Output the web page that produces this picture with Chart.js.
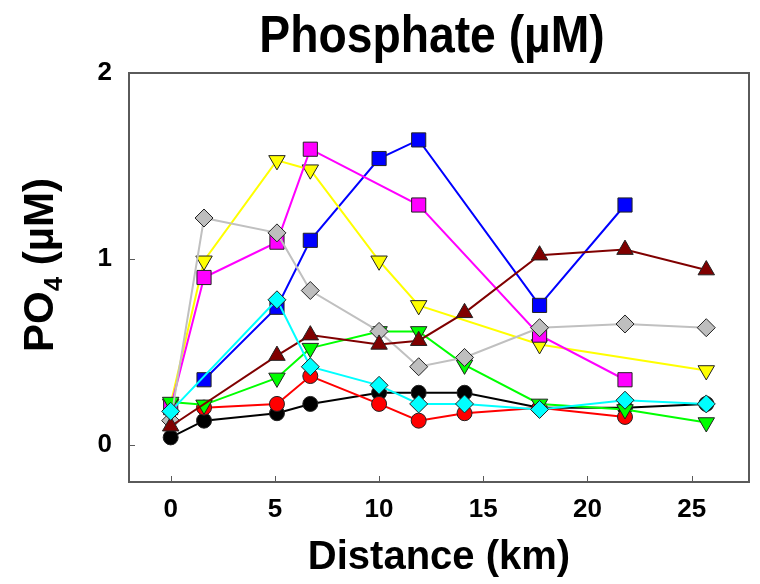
<!DOCTYPE html>
<html>
<head>
<meta charset="utf-8">
<script src="https://cdn.jsdelivr.net/npm/chart.js@4"></script>
<style>
  body { margin: 0; background: #fff; }
  #wrap { width: 760px; height: 584px; }
</style>
</head>
<body>
<div id="wrap"><canvas id="phosphateChart" width="760" height="584"></canvas></div>
<script>
// station distances (km) shared by all transects
const distance = [0, 1.6, 5.1, 6.7, 10, 11.9, 14.1, 17.7, 21.8, 25.7];

// PO4 (uM) per transect, null where no sample
const blackSeries   = [0.04, 0.13, 0.17, 0.22, 0.28, 0.28, 0.28, 0.20, 0.20, 0.22];
const redSeries     = [null, 0.20, 0.22, 0.37, 0.22, 0.13, 0.17, 0.20, 0.15, null];
const greenSeries   = [0.23, 0.215, 0.36, 0.52, 0.61, 0.61, 0.43, 0.22, 0.19, 0.12];
const cyanSeries    = [0.18, null, 0.78, 0.42, 0.32, 0.22, 0.22, 0.19, 0.24, 0.22];
const graySeries    = [0.13, 1.22, 1.14, 0.83, 0.61, 0.42, 0.47, 0.63, 0.65, 0.63];
const brownSeries   = [0.10, null, 0.48, 0.59, 0.54, 0.56, 0.71, 1.02, 1.05, 0.94];
const yellowSeries  = [0.22, 0.99, 1.53, 1.48, 0.99, 0.75, null, 0.54, null, 0.40];
const magentaSeries = [0.20, 0.90, 1.09, 1.59, null, 1.29, null, 0.59, 0.35, null];
const blueSeries    = [null, 0.35, 0.74, 1.10, 1.54, 1.64, null, 0.75, 1.29, null];

const xTicks = [0, 5, 10, 15, 20, 25];
const yTicks = [0, 1, 2];

const FONT = "'Liberation Sans', Arial, Helvetica, sans-serif";

// turn a value list into {x, y} points, skipping gaps
function toPoints(values) {
    return values
        .map((v, i) => ({ x: distance[i], y: v }))
        .filter(p => p.y !== null);
}

function series(values, color, shape, radius, rotation, fill) {
    return {
        data: toPoints(values),
        borderColor: color,
        borderWidth: 2,
        pointStyle: shape,
        pointRadius: radius,
        pointHoverRadius: radius,
        pointRotation: rotation || 0,
        pointBackgroundColor: fill || color,
        pointBorderColor: '#222',
        pointBorderWidth: 1,
        tension: 0
    };
}

// first dataset is painted last (on top)
const datasets = [
    series(cyanSeries, '#00ffff', 'rectRot', 9),
    series(brownSeries, '#800000', 'triangle', 9.5),
    series(graySeries, '#c0c0c0', 'rectRot', 9, 0, '#bebebe'),
    series(greenSeries, '#00ff00', 'triangle', 9.5, 180),
    series(redSeries, '#ff0000', 'circle', 7.5),
    series(blackSeries, '#000000', 'circle', 7.5),
    series(magentaSeries, '#ff00ff', 'rect', 10),
    series(yellowSeries, '#ffff00', 'triangle', 9.5, 180),
    series(blueSeries, '#0000ff', 'rect', 10)
];

// frame, inward tick marks, title and y-axis title
const decorations = {
    id: 'decorations',
    afterDraw(chart) {
        const { ctx, chartArea: a, scales } = chart;
        ctx.save();

        ctx.strokeStyle = '#5a5a5a';
        ctx.lineWidth = 1;
        xTicks.forEach(v => {
            const px = Math.round(scales.x.getPixelForValue(v)) + 0.5;
            ctx.beginPath();
            ctx.moveTo(px, a.bottom);
            ctx.lineTo(px, a.bottom - 6);
            ctx.stroke();
        });
        yTicks.forEach(v => {
            const py = Math.round(scales.y.getPixelForValue(v)) + 0.5;
            ctx.beginPath();
            ctx.moveTo(a.left, py);
            ctx.lineTo(a.left + 6, py);
            ctx.stroke();
        });

        ctx.lineWidth = 2;
        ctx.strokeRect(a.left, a.top, a.right - a.left, a.bottom - a.top);

        // chart title
        ctx.fillStyle = '#000';
        ctx.textBaseline = 'alphabetic';
        ctx.textAlign = 'center';
        ctx.translate(432, 52);
        ctx.scale(0.89, 1);
        ctx.font = 'bold 52px ' + FONT;
        ctx.fillText('Phosphate (\u00b5M)', 0, 0);
        ctx.restore();

        // y axis title with subscript
        ctx.save();
        ctx.fillStyle = '#000';
        ctx.translate(53, 265);
        ctx.rotate(-Math.PI / 2);
        ctx.textBaseline = 'alphabetic';
        ctx.textAlign = 'left';
        const big = 'bold 42px ' + FONT;
        const small = 'bold 26px ' + FONT;
        ctx.font = big;
        const w1 = ctx.measureText('PO').width;
        const w3 = ctx.measureText(' (\u00b5M)').width;
        ctx.font = small;
        const w2 = ctx.measureText('4').width;
        let x = -(w1 + w2 + w3) / 2;
        ctx.font = big;
        ctx.fillText('PO', x, 0);
        x += w1;
        ctx.font = small;
        ctx.fillText('4', x, 9);
        x += w2;
        ctx.font = big;
        ctx.fillText(' (\u00b5M)', x, 0);
        ctx.restore();
    }
};

const ctx = document.getElementById('phosphateChart').getContext('2d');
new Chart(ctx, {
    type: 'line',
    data: { datasets: datasets },
    options: {
        responsive: false,
        animation: false,
        devicePixelRatio: 1,
        layout: { padding: { top: 73, right: 6, left: 0, bottom: 0 } },
        plugins: {
            legend: { display: false },
            tooltip: { enabled: false },
            title: { display: false }
        },
        scales: {
            x: {
                type: 'linear',
                min: -2,
                max: 27.75,
                afterBuildTicks: s => { s.ticks = xTicks.map(v => ({ value: v })); },
                afterFit: s => { s.height = 102; },
                grid: { display: false, drawTicks: false },
                border: { display: false },
                ticks: {
                    padding: 12,
                    color: '#000',
                    font: { family: FONT, size: 26, weight: 'bold' }
                },
                title: {
                    display: true,
                    text: 'Distance (km)',
                    color: '#000',
                    padding: { top: 0, bottom: 2 },
                    font: { family: FONT, size: 40, weight: 'bold' }
                }
            },
            y: {
                type: 'linear',
                min: -0.2,
                max: 2,
                afterBuildTicks: s => { s.ticks = yTicks.map(v => ({ value: v })); },
                afterFit: s => { s.width = 129; },
                grid: { display: false, drawTicks: false },
                border: { display: false },
                ticks: {
                    padding: 17,
                    color: '#000',
                    font: { family: FONT, size: 26, weight: 'bold' }
                }
            }
        }
    },
    plugins: [decorations]
});
</script>
</body>
</html>
